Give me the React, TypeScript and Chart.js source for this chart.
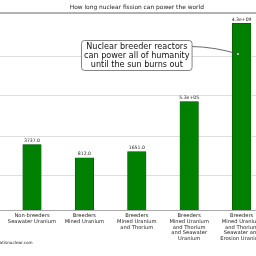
import React, { useEffect, useRef } from "react";
import { Chart, registerables } from "chart.js";
Chart.register(...registerables);

const categories: string[][] = [
  ["Non-breeders", "Seawater Uranium"],
  ["Breeders", "Mined Uranium"],
  ["Breeders", "Mined Uranium", "and Thorium"],
  ["Breeders", "Mined Uranium", "and Thorium", "and Seawater", "Uranium"],
  ["Breeders", "Mined Uranium", "and Thorium", "Seawater and", "Erosion Uranium"],
];
const xPositions = [0, 1, 2, 3, 4];
const values = [3737, 812, 1651, 5.3e5, 4.3e9];
const gridTicks = [1e2, 1e4, 1e6, 1e8];
const titleText = "How long nuclear fission can power the world";
const annotationLines = [
  "Nuclear breeder reactors",
  "can power all of humanity",
  "until the sun burns out",
];
const annotationAt = { x: 2, y: 1e8 };
const arrowTarget = { x: 3.93, y: 1.26e8 };
const footerText = "whatisnuclear.com";

const FONT = '"DejaVu Sans", sans-serif';

function fmt(v: number): string {
  if (v < 1e4) return v.toFixed(1);
  const [m, e] = v.toExponential(1).split("e");
  const sign = e[0];
  const digits = e.slice(1).padStart(2, "0");
  return `${m}e${sign}${digits}`;
}

const decorPlugin = {
  id: "decor",
  afterDraw(chart: any) {
    const ctx = chart.ctx as CanvasRenderingContext2D;
    const xs = chart.scales.x;
    const ys = chart.scales.y;
    const area = chart.chartArea;
    ctx.save();
    // top line
    ctx.strokeStyle = "#999";
    ctx.lineWidth = 1.5;
    ctx.beginPath();
    ctx.moveTo(0, area.top);
    ctx.lineTo(chart.width, area.top);
    ctx.stroke();
    // baseline
    ctx.strokeStyle = "#aaa";
    ctx.lineWidth = 1;
    ctx.beginPath();
    ctx.moveTo(0, area.bottom + 0.5);
    ctx.lineTo(chart.width, area.bottom + 0.5);
    ctx.stroke();
    // title
    ctx.fillStyle = "#222";
    ctx.font = `5.9px ${FONT}`;
    ctx.textAlign = "center";
    ctx.textBaseline = "middle";
    ctx.fillText(titleText, xs.getPixelForValue(2), 7);
    // value labels
    ctx.font = `4.6px ${FONT}`;
    const meta = chart.getDatasetMeta(0);
    meta.data.forEach((el: any, i: number) => {
      ctx.fillText(fmt(values[i]), el.x, el.y - 4);
    });
    // footer
    ctx.font = `4.2px ${FONT}`;
    ctx.textAlign = "left";
    ctx.fillText(footerText, -6.5, 243);
    // annotation
    ctx.font = `8.1px ${FONT}`;
    ctx.textAlign = "center";
    const cx = xs.getPixelForValue(annotationAt.x);
    const cy = ys.getPixelForValue(annotationAt.y) - 0.5;
    const lh = 9;
    const maxW = Math.max(...annotationLines.map((l) => ctx.measureText(l).width));
    const bw = maxW + 5;
    const bh = 30;
    const bx = cx - bw / 2;
    const by = cy - bh / 2;
    // arrow
    const tx = xs.getPixelForValue(arrowTarget.x);
    const ty = ys.getPixelForValue(arrowTarget.y);
    const sx = bx + bw;
    const sy = cy - lh;
    ctx.strokeStyle = "#444";
    ctx.lineWidth = 0.8;
    ctx.beginPath();
    ctx.moveTo(sx, sy);
    ctx.quadraticCurveTo((sx + tx) / 2, sy + 0.5, tx, ty);
    ctx.stroke();
    ctx.fillStyle = "#ddd";
    ctx.beginPath();
    ctx.arc(tx, ty, 1, 0, Math.PI * 2);
    ctx.fill();
    // box
    ctx.fillStyle = "#fff";
    ctx.strokeStyle = "#666";
    ctx.lineWidth = 0.8;
    ctx.beginPath();
    (ctx as any).roundRect(bx, by, bw, bh, 3);
    ctx.fill();
    ctx.stroke();
    ctx.fillStyle = "#111";
    annotationLines.forEach((l, i) => {
      ctx.fillText(l, cx, cy + (i - 1) * lh);
    });
    ctx.restore();
  },
};

export default function App() {
  const ref = useRef<HTMLCanvasElement | null>(null);
  useEffect(() => {
    if (!ref.current) return;
    const W = 300;
    const xMin = -32 / 52.4;
    const xMax = (W - 32) / 52.4;
    const chart = new Chart(ref.current, {
      type: "bar",
      data: {
        datasets: [
          {
            data: values.map((v, i) => ({ x: xPositions[i], y: v })),
            backgroundColor: "#008000",
            borderColor: "#005000",
            borderWidth: 0.6,
            barThickness: 18.5,
          },
        ],
      },
      options: {
        animation: false,
        responsive: false,
        devicePixelRatio: 1,
        layout: { padding: { top: 13, left: 0, right: 0, bottom: 0 } },
        plugins: { legend: { display: false }, tooltip: { enabled: false }, title: { display: false } },
        scales: {
          x: {
            type: "linear",
            offset: false,
            min: xMin,
            max: xMax,
            grid: { display: false, drawTicks: false, offset: false },
            border: { display: false },
            afterBuildTicks: (s: any) => {
              s.ticks = xPositions.map((v) => ({ value: v }));
            },
            afterFit: (s: any) => {
              s.height = 46;
              s.paddingLeft = 0;
              s.paddingRight = 0;
            },
            ticks: {
              autoSkip: false,
              maxRotation: 0,
              minRotation: 0,
              padding: 3,
              color: "#222",
              font: { family: FONT, size: 5.2, lineHeight: 1.1 },
              callback: (v: any) => categories[Math.round(Number(v))] ?? "",
            },
          },
          y: {
            type: "logarithmic",
            min: Math.pow(10, 0.3),
            max: Math.pow(10, 10.15),
            grid: { color: "#dedede", lineWidth: 1, drawTicks: false },
            border: { display: false },
            afterBuildTicks: (s: any) => {
              s.ticks = gridTicks.map((v) => ({ value: v }));
            },
            afterFit: (s: any) => {
              s.width = 0;
              s.paddingTop = 0;
              s.paddingBottom = 0;
            },
            ticks: { display: false },
          },
        },
      } as any,
      plugins: [decorPlugin],
    });
    return () => chart.destroy();
  }, []);
  return (
    <div
      style={{
        position: "fixed",
        left: 0,
        top: 0,
        width: 256,
        height: 256,
        overflow: "hidden",
        background: "#fff",
      }}
    >
      <canvas ref={ref} width={300} height={256} style={{ width: 300, height: 256, display: "block" }} />
    </div>
  );
}
